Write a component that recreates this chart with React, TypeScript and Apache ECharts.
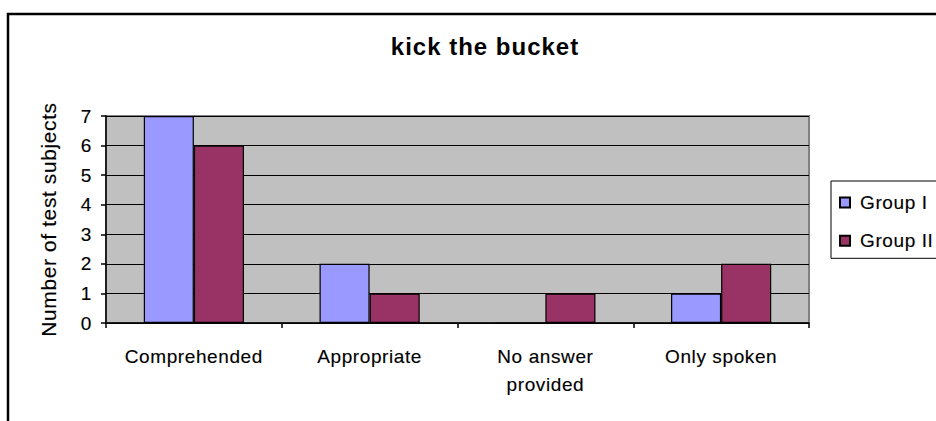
import React, { useEffect, useRef } from "react";
import * as echarts from "echarts";

const categories = ["Comprehended", "Appropriate", "No answer\nprovided", "Only spoken"];
const seriesNames = ["Group I", "Group II"];
const groupI = [7, 2, 0, 1];
const groupII = [6, 1, 1, 2];
const yTicks = { min: 0, max: 7, interval: 1 };
const titleText = "kick the bucket";
const yAxisName = "Number of test subjects";

const FONT = "'Liberation Sans', Arial, sans-serif";
const thick = { textBorderColor: "#000", textBorderWidth: 0.15 };

export default function App() {
  const ref = useRef<HTMLDivElement>(null);
  useEffect(() => {
    if (!ref.current) return;
    const chart = echarts.init(ref.current, null, { renderer: "svg" });
    chart.setOption({
      animation: false,
      backgroundColor: "#ffffff",
      textStyle: { fontFamily: FONT, color: "#000" },
      title: {
        text: titleText,
        left: 480,
        top: 29,
        textAlign: "center",
        textStyle: { fontFamily: FONT, fontSize: 24, fontWeight: "bold", color: "#000" },
      },
      graphic: [
        {
          type: "rect",
          silent: true,
          shape: { x: 8, y: 14, width: 1000, height: 1000 },
          style: { fill: "none", stroke: "#000", lineWidth: 2.5 },
        },
      ],
      legend: {
        orient: "vertical",
        left: 831,
        top: 181,
        padding: [12, 40, 8, 8],
        itemGap: 19,
        itemWidth: 10,
        itemHeight: 10,
        icon: "rect",
        borderColor: "#000",
        borderWidth: 1,
        backgroundColor: "#fff",
        textStyle: { fontFamily: FONT, fontSize: 19, color: "#000", padding: [0, 0, 0, 5], ...thick },
        data: seriesNames,
      },
      grid: {
        left: 106,
        right: 127,
        top: 116,
        bottom: 98,
        show: true,
        backgroundColor: "#C0C0C0",
        borderColor: "#808080",
        borderWidth: 2,
      },
      xAxis: {
        type: "category",
        data: categories,
        axisLine: { show: true, lineStyle: { color: "#000", width: 1.5 } },
        axisTick: { show: true, length: 5, interval: 0, lineStyle: { color: "#000", width: 1.5 } },
        axisLabel: {
          interval: 0,
          fontFamily: FONT,
          fontSize: 19,
          lineHeight: 28,
          margin: 19,
          color: "#000",
          ...thick,
        },
        splitLine: { show: false },
      },
      yAxis: {
        type: "value",
        min: yTicks.min,
        max: yTicks.max,
        interval: yTicks.interval,
        name: yAxisName,
        nameLocation: "middle",
        nameGap: 47,
        nameTextStyle: { fontFamily: FONT, fontSize: 21, color: "#000", ...thick },
        axisLine: { show: true, lineStyle: { color: "#000", width: 1.5 } },
        axisTick: { show: true, length: 5, lineStyle: { color: "#000", width: 1.5 } },
        axisLabel: { fontFamily: FONT, fontSize: 19, color: "#000", margin: 14, ...thick },
        splitLine: { show: true, lineStyle: { color: "#000", width: 1 } },
      },
      series: [
        {
          name: seriesNames[0],
          type: "bar",
          data: groupI,
          barGap: "0%",
          barCategoryGap: "43%",
          itemStyle: { color: "#9999FF", borderColor: "#000", borderWidth: 1.2 },
        },
        {
          name: seriesNames[1],
          type: "bar",
          data: groupII,
          barGap: "0%",
          barCategoryGap: "43%",
          itemStyle: { color: "#993366", borderColor: "#000", borderWidth: 1.2 },
        },
      ],
    });
    return () => chart.dispose();
  }, []);
  return (
    <>
      <style>{`#chartbox text{letter-spacing:0.6px}#chartbox text[style*="bold"]{letter-spacing:1px}`}</style>
      <div
        id="chartbox"
        ref={ref}
        style={{ position: "absolute", left: 0, top: 0, width: 936, height: 421 }}
      />
    </>
  );
}
